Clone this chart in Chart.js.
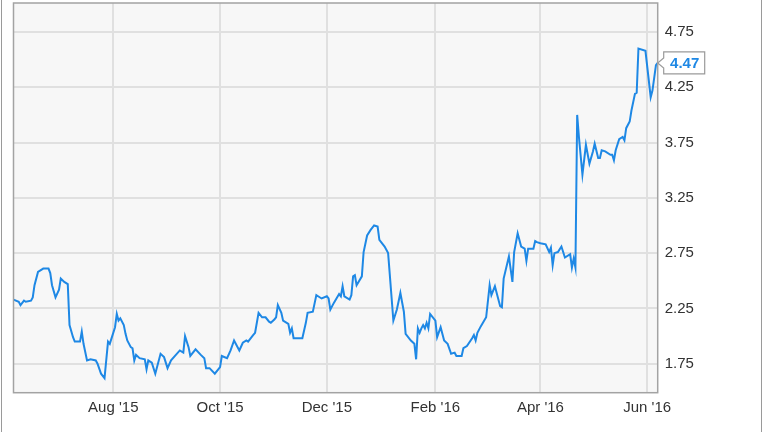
<!DOCTYPE html>
<html>
<head>
<meta charset="utf-8">
<script src="https://cdn.jsdelivr.net/npm/chart.js@4.4.1/dist/chart.umd.min.js"></script>
<style>
    html, body { margin: 0; padding: 0; background: #fff; }
    #wrap { position: relative; width: 764px; height: 432px; }
    #frame { position: absolute; left: 1px; top: 0; width: 759px; height: 432px;
             border-left: 1px solid #9a9a9a; border-right: 1px solid #9a9a9a; pointer-events: none; }
</style>
</head>
<body>
<div id="wrap">
    <canvas id="priceChart" width="764" height="432"></canvas>
    <div id="frame"></div>
</div>
<script>
// days counted from 5 Jun 2015
const days = [
    0, 3, 4, 6, 7, 10, 11, 12, 14, 17, 20, 21, 22, 24, 26, 27, 29, 31, 32, 34,
    35, 38, 39, 40, 42, 44, 47, 48, 50, 52, 54, 55, 58, 59, 60, 61, 63, 64, 65, 67,
    68, 69, 70, 72, 75, 76, 77, 79, 81, 84, 86, 88, 90, 95, 97, 98, 100, 101, 104, 107,
    109, 110, 112, 115, 118, 119, 122, 124, 126, 129, 131, 133, 134, 137, 138, 140, 142, 144, 146, 147,
    149, 150, 151, 153, 154, 157, 158, 159, 160, 165, 167, 168, 171, 173, 174, 176, 179, 180, 181, 183,
    186, 187, 188, 189, 192, 193, 194, 195, 196, 199, 200, 202, 204, 206, 208, 209, 212, 214, 217, 219,
    221, 223, 224, 227, 229, 230, 231, 232, 233, 234, 235, 236, 237, 238, 241, 242, 244, 246, 248, 250,
    252, 253, 256, 257, 259, 262, 263, 264, 265, 267, 270, 272, 273, 275, 278, 279, 280, 283, 285, 286,
    288, 290, 292, 293, 294, 297, 298, 299, 301, 304, 306, 307, 308, 309, 311, 313, 315, 318, 319, 320,
    321, 322, 323, 325, 327, 329, 331, 332, 334, 335, 336, 338, 341, 342, 343, 344, 346, 348, 349, 350,
    352, 353, 355, 356, 357, 361, 364, 365, 367, 368
];
const prices = [
    2.33, 2.31, 2.28, 2.32, 2.31, 2.32, 2.35, 2.46, 2.58, 2.61, 2.61, 2.57, 2.46, 2.35, 2.42, 2.52, 2.49, 2.47, 2.10, 1.99,
    1.95, 1.95, 2.04, 1.93, 1.78, 1.79, 1.78, 1.75, 1.66, 1.62, 1.95, 1.93, 2.08, 2.20, 2.14, 2.16, 2.10, 2.02, 1.96, 1.90,
    1.89, 1.78, 1.83, 1.80, 1.79, 1.70, 1.78, 1.76, 1.66, 1.84, 1.81, 1.71, 1.78, 1.87, 1.85, 2.00, 1.90, 1.82, 1.88, 1.83,
    1.80, 1.71, 1.71, 1.66, 1.72, 1.82, 1.80, 1.87, 1.96, 1.87, 1.94, 1.96, 1.95, 2.01, 2.03, 2.21, 2.17, 2.17, 2.13, 2.12,
    2.15, 2.17, 2.28, 2.21, 2.14, 2.11, 2.03, 2.07, 1.98, 1.98, 2.12, 2.21, 2.22, 2.37, 2.36, 2.34, 2.36, 2.34, 2.24, 2.30,
    2.38, 2.36, 2.45, 2.36, 2.33, 2.37, 2.54, 2.55, 2.46, 2.54, 2.76, 2.91, 2.96, 3.00, 2.99, 2.87, 2.81, 2.75, 2.14, 2.24,
    2.39, 2.22, 2.02, 1.96, 1.93, 1.79, 2.07, 2.03, 2.07, 2.10, 2.07, 2.12, 2.07, 2.20, 2.14, 1.99, 2.08, 1.96, 1.93, 1.84,
    1.85, 1.82, 1.82, 1.89, 1.91, 1.98, 2.01, 1.96, 2.03, 2.09, 2.17, 2.46, 2.37, 2.45, 2.27, 2.26, 2.52, 2.72, 2.49, 2.76,
    2.93, 2.81, 2.79, 2.68, 2.79, 2.79, 2.86, 2.85, 2.84, 2.83, 2.76, 2.80, 2.64, 2.75, 2.76, 2.81, 2.71, 2.74, 2.62, 2.70,
    2.62, 4.00, 3.80, 3.46, 3.73, 3.56, 3.67, 3.74, 3.61, 3.61, 3.68, 3.67, 3.64, 3.64, 3.59, 3.68, 3.78, 3.80, 3.77, 3.88,
    3.94, 4.04, 4.19, 4.20, 4.60, 4.58, 4.16, 4.22, 4.45, 4.47
];

const monthTicks = [57, 118, 179, 241, 301, 362];
const monthLabels = ["Aug '15", "Oct '15", "Dec '15", "Feb '16", "Apr '16", "Jun '16"];
const priceTicks = [1.75, 2.25, 2.75, 3.25, 3.75, 4.25, 4.75];

const lineColor = '#1e88e5';
const fontFamily = "'Liberation Sans', Arial, sans-serif";

const plotBackground = {
    id: 'plotBackground',
    beforeDraw: (chart) => {
        const { ctx, chartArea: a } = chart;
        ctx.save();
        ctx.fillStyle = '#f7f7f7';
        ctx.fillRect(a.left, a.top, a.right - a.left, a.bottom - a.top);
        ctx.restore();
    }
};

const plotFrame = {
    id: 'plotFrame',
    afterDraw: (chart) => {
        const { ctx, chartArea: a } = chart;
        ctx.save();
        ctx.strokeStyle = '#a3a3a3';
        ctx.lineWidth = 1.5;
        ctx.strokeRect(a.left, a.top, a.right - a.left, a.bottom - a.top);
        ctx.restore();
    }
};

// the boxed last price on the right axis
const lastValueTag = {
    id: 'lastValueTag',
    afterDraw: (chart) => {
        const { ctx, chartArea: a } = chart;
        const last = prices[prices.length - 1];
        const y = chart.scales.y.getPixelForValue(last);
        const tipX = a.right;
        const left = tipX + 6, w = 41, h = 22, top = y - 11;
        ctx.save();
        ctx.beginPath();
        ctx.moveTo(tipX, y);
        ctx.lineTo(left, y - 5);
        ctx.lineTo(left, top);
        ctx.lineTo(left + w, top);
        ctx.lineTo(left + w, top + h);
        ctx.lineTo(left, top + h);
        ctx.lineTo(left, y + 5);
        ctx.closePath();
        ctx.fillStyle = '#fff';
        ctx.fill();
        ctx.strokeStyle = '#9a9a9a';
        ctx.lineWidth = 1.2;
        ctx.stroke();
        ctx.fillStyle = lineColor;
        ctx.font = 'bold 15px ' + fontFamily;
        ctx.textAlign = 'center';
        ctx.textBaseline = 'middle';
        ctx.fillText(last.toFixed(2), left + w / 2 + 0.5, y + 1);
        ctx.restore();
    }
};

const chartApp = {
    chart: null,

    init: () => {
        const ctx = document.getElementById('priceChart').getContext('2d');
        chartApp.chart = new Chart(ctx, {
            type: 'line',
            data: {
                datasets: [{
                    data: days.map((d, i) => ({ x: d, y: prices[i] })),
                    borderColor: lineColor,
                    borderWidth: 2,
                    pointRadius: 0,
                    tension: 0,
                    fill: false
                }]
            },
            options: {
                responsive: false,
                animation: false,
                devicePixelRatio: 1,
                layout: { padding: { left: 13.5, top: 3, right: 0, bottom: 0 } },
                plugins: { legend: { display: false }, tooltip: { enabled: false } },
                scales: {
                    x: {
                        type: 'linear',
                        min: 0,
                        max: 368,
                        afterBuildTicks: (scale) => { scale.ticks = monthTicks.map(v => ({ value: v })); },
                        afterFit: (scale) => {
                            scale.height = 39.3;
                            scale.paddingLeft = 0;
                            scale.paddingRight = 0;
                        },
                        ticks: {
                            autoSkip: false,
                            maxRotation: 0,
                            padding: 6,
                            color: '#333',
                            font: { family: fontFamily, size: 15 },
                            callback: (v) => monthLabels[monthTicks.indexOf(v)]
                        },
                        grid: { color: '#e0e0e0', lineWidth: 2, drawTicks: false },
                        border: { display: false }
                    },
                    y: {
                        position: 'right',
                        min: 1.488,
                        max: 5.012,
                        afterBuildTicks: (scale) => { scale.ticks = priceTicks.map(v => ({ value: v })); },
                        afterFit: (scale) => {
                            scale.width = 106.3;
                            scale.paddingTop = 0;
                            scale.paddingBottom = 0;
                        },
                        ticks: {
                            padding: 7,
                            color: '#333',
                            font: { family: fontFamily, size: 15 },
                            callback: (v) => Number(v).toFixed(2)
                        },
                        grid: { color: '#e0e0e0', lineWidth: 2, drawTicks: false },
                        border: { display: false }
                    }
                }
            },
            plugins: [plotBackground, plotFrame, lastValueTag]
        });
    }
};

document.addEventListener('DOMContentLoaded', chartApp.init);
</script>
</body>
</html>
